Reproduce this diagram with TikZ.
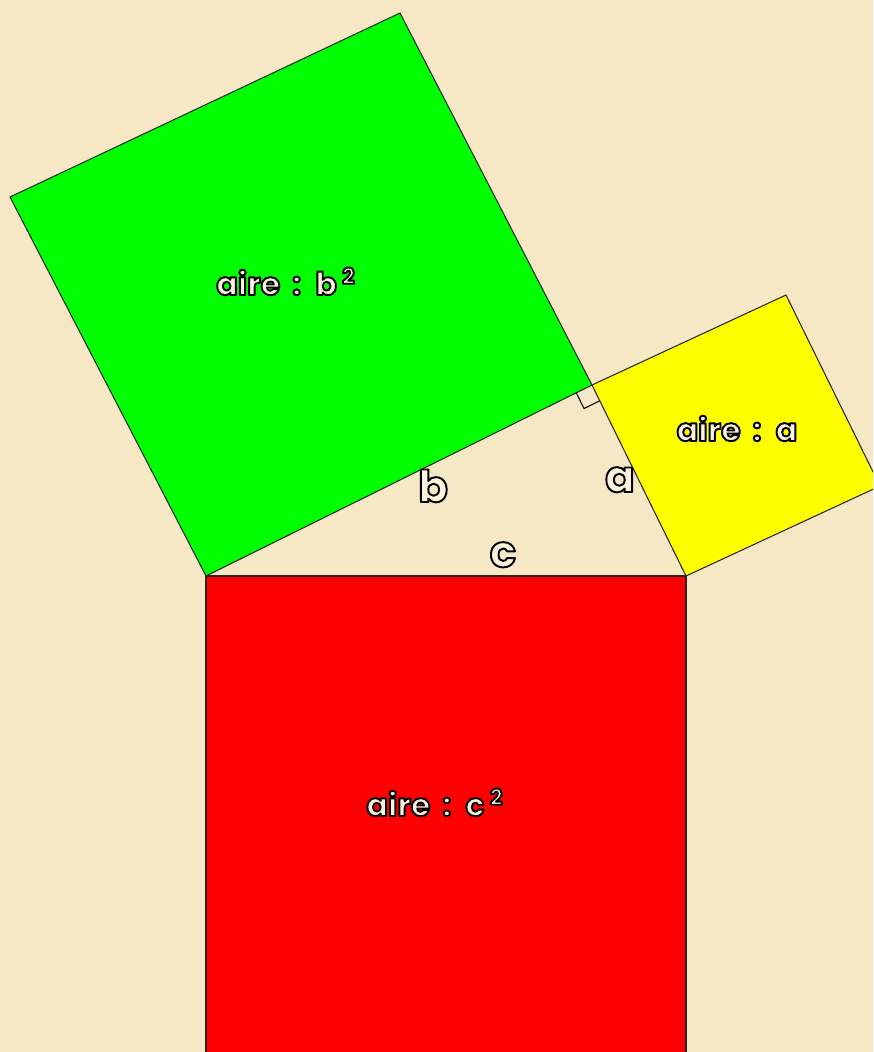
\documentclass[tikz,border=0pt]{standalone}
\usepackage{fontspec}
\usetikzlibrary{calc}
\newfontfamily\rondfont{Poppins}
\definecolor{papier}{RGB}{247,232,197}
\definecolor{creme}{RGB}{252,243,220}
\definecolor{vert}{RGB}{0,255,0}
\definecolor{jaune}{RGB}{255,255,0}
\definecolor{rouge}{RGB}{255,0,0}
\newcommand\cerne[1]{%
  \special{pdf:literal direct 0 0 0 RG 1.1 w 1 j 2 Tr}#1\special{pdf:literal direct 0 Tr}}
\tikzset{
  carre/.style={draw=black!85,line width=0.6pt},
  aire/.style={font=\rondfont\bfseries\fontsize{18}{20}\selectfont,text=creme,inner sep=0pt,anchor=base},
  cote/.style={font=\rondfont\bfseries\fontsize{25}{27}\selectfont,text=creme,inner sep=0pt,anchor=base}
}
\begin{document}
\begin{tikzpicture}[x=0.02cm,y=-0.02cm]
			\useasboundingbox (0,0) rectangle (873,1052);
			\clip (0,0) rectangle (873,1052);
			\fill[papier] (0,0) rectangle (873,1052);

			\coordinate (A) at (206,576);
			\coordinate (B) at (686,576);
			\coordinate (C) at (592,385);
			\coordinate (bH) at (400,13);
			\coordinate (bG) at (10,197);
			\coordinate (aH) at (786,295);
			\coordinate (aD) at ($(B)+(aH)-(C)$);
			\coordinate (cG) at (206,1070);
			\coordinate (cD) at (686,1070);

			\draw[carre,fill=vert] (A) -- (C) -- (bH) -- (bG) -- cycle;
			\draw[carre,fill=jaune] (C) -- (aH) -- (aD) -- (B) -- cycle;
			\draw[carre,fill=rouge] (A) -- (B) -- (cD) -- (cG) -- cycle;

			\coordinate (m1) at ($(C)!10pt!(A)$);
			\coordinate (m2) at ($(C)!10pt!(B)$);
			\coordinate (m3) at ($(m1)+(m2)-(C)$);
			\draw[line width=0.6pt] (m1) -- (m3) -- (m2);

			\node (airB) at (286,295)[aire]{\cerne{aire \,:\, b\,\textsuperscript{2}}};
			\node (airA) at (737,441)[aire]{\cerne{aire \,:\, a}};
			\node (airC) at (435,816)[aire]{\cerne{aire \,:\, c\,\textsuperscript{2}}};

			\node (coteB) at (433,502)[cote]{\cerne{b}};
			\node (coteA) at (620,492)[cote]{\cerne{a}};
			\node (coteC) at (503,567)[cote]{\cerne{c}};
		\end{tikzpicture}
\end{document}
